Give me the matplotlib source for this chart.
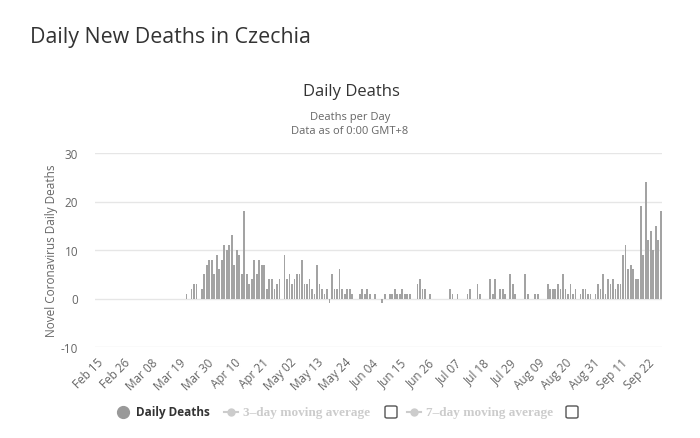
import numpy as np
import pandas as pd
import matplotlib
matplotlib.use("Agg")
import matplotlib.pyplot as plt
from matplotlib.lines import Line2D
from matplotlib.patches import FancyBboxPatch

# ---- data ----
dates = pd.date_range("2020-02-15", "2020-09-27", freq="D")
# daily deaths starting Mar 22 (values before are 0)
deaths_from_mar22 = [
    1, 0, 2, 3, 3, 0, 2, 5, 7, 8,            # Mar 22 - Mar 31
    8, 5, 9, 6, 8, 11, 10, 11, 13, 7,        # Apr 1 - Apr 10
    10, 9, 5, 18, 5, 3, 4, 8, 5, 8,          # Apr 11 - Apr 20
    7, 7, 2, 4, 4, 2, 3, 4, 0, 9,            # Apr 21 - Apr 30
    4, 5, 3, 4, 5, 5, 8, 3, 3, 4,            # May 1 - May 10
    2, 1, 7, 3, 2, 1, 2, -1, 5, 2,           # May 11 - May 20
    2, 6, 2, 1, 2, 2, 1, 0, 0, 1,            # May 21 - May 30
    2, 1, 2, 1, 0, 1, 0, 0, -1, 1,           # May 31 - Jun 9
    0, 1, 1, 2, 1, 1, 2, 1, 1, 1,            # Jun 10 - Jun 19
    0, 0, 3, 4, 2, 2, 0, 1, 0, 0,            # Jun 20 - Jun 29
    0, 0, 0, 0, 0, 2, 1, 0, 1, 0,            # Jun 30 - Jul 9
    0, 0, 1, 2, 0, 0, 3, 1, 0, 0,            # Jul 10 - Jul 19
    0, 4, 1, 4, 0, 2, 2, 1, 0, 5,            # Jul 20 - Jul 29
    3, 1, 0, 0, 0, 5, 1, 0, 0, 1,            # Jul 30 - Aug 8
    1, 0, 0, 0, 3, 2, 2, 2, 3, 2,            # Aug 9 - Aug 18
    5, 2, 1, 3, 1, 2, 0, 1, 2, 2,            # Aug 19 - Aug 28
    1, 1, 0, 1, 3, 2, 5, 1, 4, 3,            # Aug 29 - Sep 7
    4, 2, 3, 3, 9, 11, 6, 7, 6, 4,           # Sep 8 - Sep 17
    4, 19, 9, 24, 12, 14, 10, 15, 12, 18,    # Sep 18 - Sep 27
]
n_zero = len(dates) - len(deaths_from_mar22)
daily_deaths = [0] * n_zero + deaths_from_mar22
tick_labels = [d.strftime("%b %d") for d in dates]
y_ticks = [-10, 0, 10, 20, 30]

# ---- figure ----
W, H = 700, 439
fig = plt.figure(figsize=(W / 100, H / 100), dpi=100)
fig.patch.set_facecolor("white")
FONT = "Open Sans"

def fx(px):
    return px / W

def fy(py):
    return 1 - py / H

ax = fig.add_axes([fx(95), fy(348), fx(662) - fx(95), fy(154) - fy(348)])
x = np.arange(len(daily_deaths))
ax.bar(x, daily_deaths, width=0.7, color="#a3a3a3", linewidth=0, zorder=3)
ax.set_xlim(-0.5, len(daily_deaths) - 0.5)
ax.set_ylim(-10, 30)
ax.set_yticks(y_ticks)
ax.set_yticklabels([str(v) for v in y_ticks], fontsize=8.5, color="#666666",
                   family=FONT)
ax.yaxis.grid(True, color="#e6e6e6", linewidth=1, zorder=0)
ax.tick_params(axis="y", length=0, pad=12)
idx = list(range(0, len(daily_deaths), 11))
ax.set_xticks(idx)
ax.set_xticklabels([tick_labels[i] for i in idx], rotation=45, ha="right",
                   rotation_mode="anchor", fontsize=8.5, color="#666666",
                   family=FONT)
ax.tick_params(axis="x", length=0, pad=6)
for s in ax.spines.values():
    s.set_visible(False)
ax.set_ylabel("Novel Coronavirus Daily Deaths", fontsize=8.5, color="#666666",
              family=FONT, labelpad=2)

# ---- titles ----
fig.text(fx(30), fy(38), "Daily New Deaths in Czechia", fontsize=15.4,
         color="#333333", family=FONT, va="center", ha="left")
fig.text(fx(351), fy(92), "Daily Deaths", fontsize=12, color="#333333",
         family=FONT, va="center", ha="center")
fig.text(fx(350), fy(118), "Deaths per Day", fontsize=8, color="#666666",
         family=FONT, va="center", ha="center")
fig.text(fx(350), fy(131), "Data as of 0:00 GMT+8", fontsize=8, color="#666666",
         family=FONT, va="center", ha="center")

# ---- legend ----
ly = fy(413)
fig.add_artist(Line2D([fx(123)], [ly], marker="o", markersize=8.5,
                      color="#999999", linestyle="none"))
fig.text(fx(136), ly, "Daily Deaths", fontsize=8.5, fontweight="bold",
         color="#333333", family=FONT, va="center", ha="left")
for x0, label in ((224, "3\u2013day moving average"),
                  (407, "7\u2013day moving average")):
    fig.add_artist(Line2D([fx(x0), fx(x0 + 14)], [ly, ly], color="#cccccc",
                          linewidth=1.5))
    fig.add_artist(Line2D([fx(x0 + 7)], [ly], marker="o", markersize=5,
                          color="#cccccc", linestyle="none"))
    fig.text(fx(x0 + 19), ly, label, fontsize=9.5, fontweight="bold",
             color="#cccccc", family="Liberation Serif", va="center", ha="left")
for cx in (391, 572):
    fig.add_artist(FancyBboxPatch((fx(cx - 6), fy(419)), fx(12), fy(407) - fy(419),
                                  boxstyle="round,pad=0,rounding_size=0.003",
                                  facecolor="white", edgecolor="#555555",
                                  linewidth=1))

fig.savefig("out.png", dpi=100)
